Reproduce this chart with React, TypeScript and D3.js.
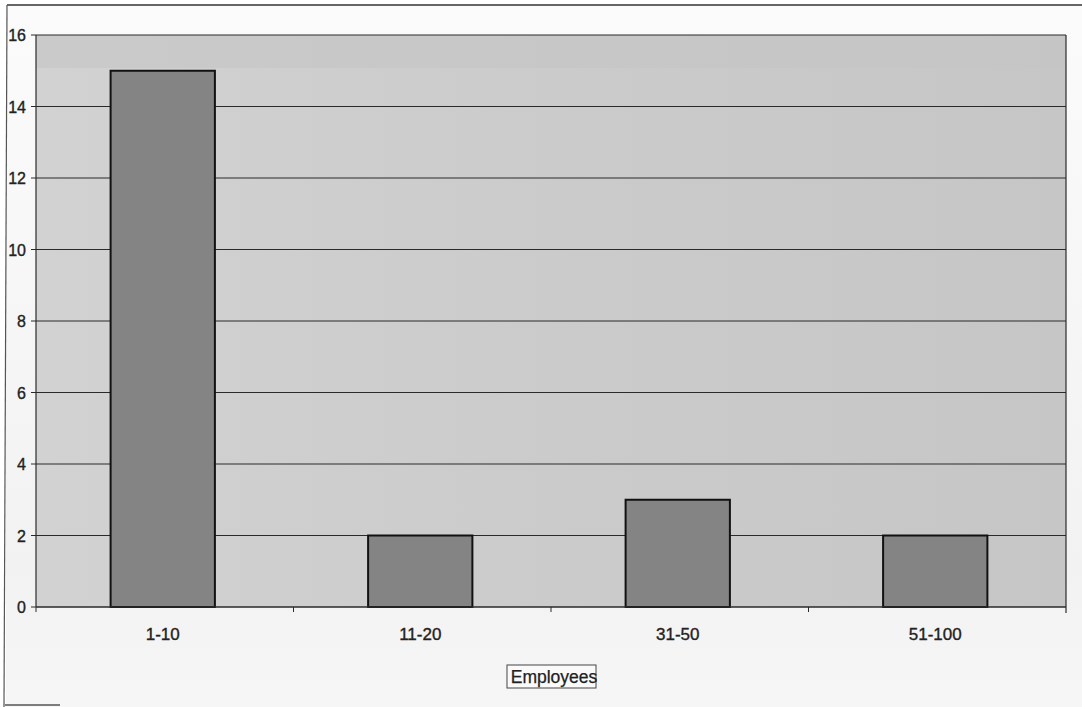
import React from "react";
import * as d3 from "d3";

const categories = ["1-10", "11-20", "31-50", "51-100"];
const values = [15, 2, 3, 2];
const yTicks = [0, 2, 4, 6, 8, 10, 12, 14, 16];
const xTitle = "Employees";

export default function App() {
  const W = 1082, H = 707;
  const m = { left: 36, right: 1066, top: 35, bottom: 607 };
  const x = d3.scaleBand<string>().domain(categories).range([m.left, m.right]).padding(0);
  const y = d3.scaleLinear().domain([0, 16]).range([m.bottom, m.top]);
  const bw = x.bandwidth() * 0.405;
  const font = "Arial, 'Liberation Sans', Helvetica, sans-serif";
  return (
    <svg width={W} height={H} style={{ position: "absolute", left: 0, top: 0, background: "#ffffff" }}>
      <defs>
        <linearGradient id="bg" x1="0" y1="0" x2="0" y2="1">
          <stop offset="0%" stopColor="#fbfbfb" />
          <stop offset="80%" stopColor="#f2f2f2" />
          <stop offset="100%" stopColor="#f6f6f6" />
        </linearGradient>
        <linearGradient id="plot" x1="0" y1="0" x2="1" y2="0">
          <stop offset="0%" stopColor="#d2d2d2" />
          <stop offset="50%" stopColor="#cbcbcb" />
          <stop offset="100%" stopColor="#c6c6c6" />
        </linearGradient>
      </defs>
      <rect x={6} y={5} width={W - 6} height={H - 5} fill="url(#bg)" />
      <line x1={7} y1={5} x2={W} y2={5} stroke="#333" strokeWidth={1.5} />
      <line x1={7} y1={5} x2={4} y2={H} stroke="#555" strokeWidth={1.2} />
      <rect x={m.left} y={m.top} width={m.right - m.left} height={m.bottom - m.top} fill="url(#plot)" />
      <rect x={m.left} y={m.top} width={m.right - m.left} height={33} fill="#c4c4c4" opacity={0.6} />
      {yTicks.filter(t => t > 0).map(t => (
        <line key={"g" + t} x1={m.left} x2={m.right} y1={y(t)} y2={y(t)} stroke="#2a2a2a" strokeWidth={1.2} />
      ))}
      <line x1={m.right} x2={m.right} y1={m.top} y2={m.bottom + 6} stroke="#2a2a2a" strokeWidth={1.2} />
      {categories.map((c, i) => (
        <rect key={c} x={x(c)! + x.bandwidth() / 2 - bw / 2 - 2} y={y(values[i])} width={bw} height={y(0) - y(values[i])}
          fill="#848484" stroke="#111" strokeWidth={2} />
      ))}
      <line x1={m.left} x2={m.left} y1={m.top} y2={m.bottom} stroke="#2a2a2a" strokeWidth={1.2} />
      <line x1={m.left} x2={m.right} y1={m.bottom} y2={m.bottom} stroke="#2a2a2a" strokeWidth={1.5} />
      {yTicks.map(t => (
        <g key={"t" + t}>
          <line x1={m.left - 5} x2={m.left} y1={y(t)} y2={y(t)} stroke="#2a2a2a" strokeWidth={1} />
          <text x={26} y={y(t) + 6} textAnchor="end" fontFamily={font} fontSize={16} fill="#222"
            stroke="#222" strokeWidth={0.35}>{t}</text>
        </g>
      ))}
      {categories.map(c => (
        <line key={"xt" + c} x1={x(c)!} x2={x(c)!} y1={m.bottom} y2={m.bottom + 5} stroke="#2a2a2a" strokeWidth={1} />
      ))}
      {categories.map(c => (
        <text key={"xl" + c} x={x(c)! + x.bandwidth() / 2 - 2} y={m.bottom + 33} textAnchor="middle"
          fontFamily={font} fontSize={17} fill="#222" stroke="#222" strokeWidth={0.35}>{c}</text>
      ))}
      <rect x={507} y={665} width={89} height={23} fill="#fafafa" stroke="#444" strokeWidth={1} />
      <text x={554} y={683} textAnchor="middle" fontFamily={font} fontSize={17.5} fill="#222"
        stroke="#222" strokeWidth={0.25}>{xTitle}</text>
      <line x1={5} x2={60} y1={705} y2={705} stroke="#555" strokeWidth={1.5} />
    </svg>
  );
}
